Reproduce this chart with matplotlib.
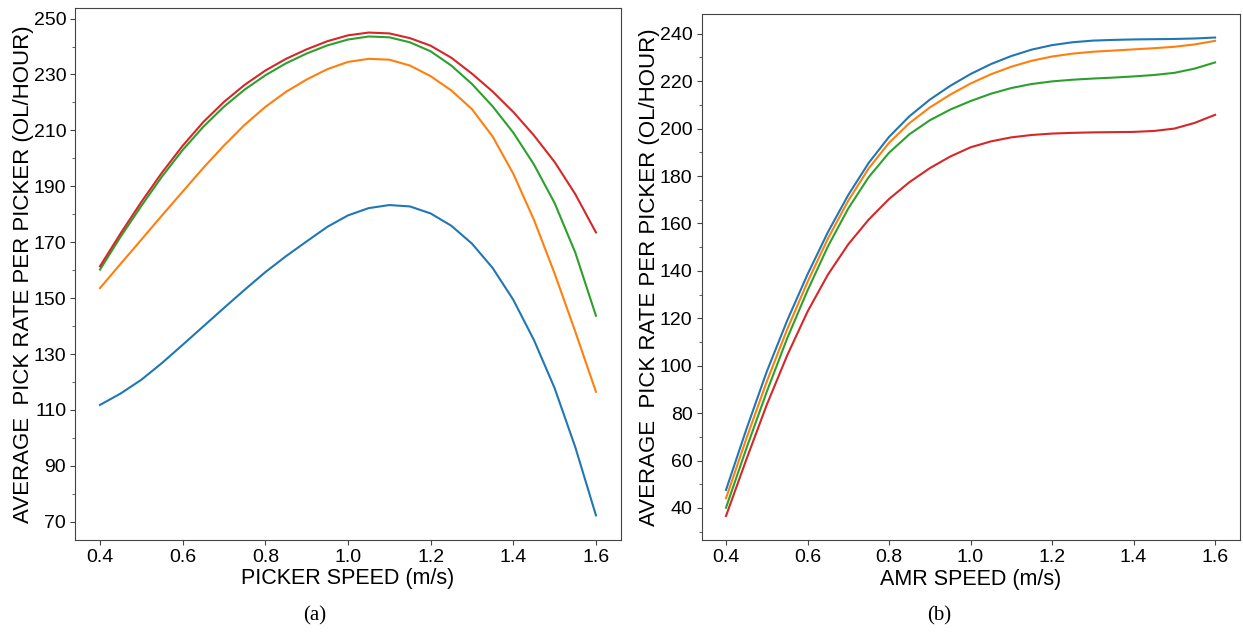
import matplotlib
matplotlib.use("Agg")
import matplotlib.pyplot as plt

# speeds, read every 0.05 m/s
speed = [0.40, 0.45, 0.50, 0.55, 0.60, 0.65, 0.70, 0.75, 0.80, 0.85, 0.90, 0.95, 1.00,
         1.05, 1.10, 1.15, 1.20, 1.25, 1.30, 1.35, 1.40, 1.45, 1.50, 1.55, 1.60]

# (a) picker speed vs pick rate
a_blue = [111.8, 115.9, 120.8, 126.8, 133.3, 139.9, 146.5, 153.0, 159.3, 165.0, 170.3, 175.5, 179.6,
          182.2, 183.3, 182.8, 180.3, 175.9, 169.5, 160.8, 149.4, 135.0, 117.8, 96.7, 72.3]
a_orange = [153.6, 162.3, 170.9, 179.6, 188.1, 196.6, 204.6, 212.0, 218.4, 223.8, 228.2, 231.9, 234.5,
            235.6, 235.3, 233.2, 229.4, 224.3, 217.6, 207.8, 194.5, 178.0, 158.8, 138.0, 116.5]
a_green = [160.2, 172.0, 183.0, 193.5, 203.0, 211.3, 218.5, 224.6, 229.7, 234.0, 237.5, 240.4, 242.5,
           243.6, 243.3, 241.5, 238.3, 233.2, 226.6, 218.6, 209.2, 197.8, 184.0, 166.3, 143.7]
a_red = [161.4, 173.2, 184.4, 194.9, 204.5, 213.0, 220.2, 226.3, 231.4, 235.6, 239.0, 241.9, 244.0,
         245.0, 244.7, 243.0, 240.3, 236.0, 230.3, 223.9, 216.6, 208.2, 198.7, 187.2, 173.5]

# (b) AMR speed vs pick rate
b_blue = [47.6, 73.2, 97.5, 119.0, 138.5, 156.3, 172.0, 185.5, 196.5, 205.2, 212.2, 218.0, 223.0,
          227.2, 230.6, 233.3, 235.2, 236.4, 237.1, 237.4, 237.6, 237.7, 237.8, 238.0, 238.4]
b_orange = [44.1, 69.3, 93.3, 115.3, 135.3, 153.6, 169.6, 183.2, 194.0, 202.3, 208.9, 214.3, 219.0,
            222.9, 226.1, 228.6, 230.4, 231.6, 232.4, 232.9, 233.4, 233.9, 234.5, 235.5, 237.0]
b_green = [40.1, 65.1, 89.0, 111.5, 131.7, 150.3, 166.3, 179.5, 189.8, 197.6, 203.5, 208.0, 211.6,
           214.7, 217.1, 218.8, 219.9, 220.6, 221.1, 221.5, 222.0, 222.6, 223.5, 225.3, 227.9]
b_red = [36.6, 60.5, 83.5, 104.3, 122.8, 138.4, 151.2, 161.6, 170.3, 177.4, 183.3, 188.2, 192.1,
         194.6, 196.3, 197.3, 197.9, 198.2, 198.4, 198.5, 198.6, 199.0, 200.0, 202.4, 205.8]

colors = ["#1f77b4", "#ff7f0e", "#2ca02c", "#d62728"]
ylabel = "AVERAGE  PICK RATE PER PICKER (OL/HOUR)"

plt.rcParams["font.family"] = "Liberation Sans"

fig = plt.figure(figsize=(12.43, 6.33), dpi=100)
ax1 = fig.add_axes([0.0605, 0.1477, 0.4389, 0.8390])
ax2 = fig.add_axes([0.5644, 0.1470, 0.4328, 0.8315])

for ys, c in zip([a_blue, a_orange, a_green, a_red], colors):
    ax1.plot(speed, ys, color=c, lw=1.5)
for ys, c in zip([b_blue, b_orange, b_green, b_red], colors):
    ax2.plot(speed, ys, color=c, lw=1.5)

ax1.set_yticks(range(70, 251, 20))
ax1.set_yticks(range(80, 241, 20), minor=True)
ax2.set_yticks(range(40, 241, 20))
ax2.set_yticks(range(30, 231, 20), minor=True)

for ax, xl in [(ax1, "PICKER SPEED (m/s)"), (ax2, "AMR SPEED (m/s)")]:
    ax.set_xticks([0.4, 0.6, 0.8, 1.0, 1.2, 1.4, 1.6])
    ax.set_xlabel(xl, fontsize=15.5, labelpad=2)
    ax.set_ylabel(ylabel, fontsize=16, labelpad=0)
    ax.tick_params(labelsize=14, color="#444444", pad=3)
    ax.tick_params(which="minor", color="#444444")
    for s in ax.spines.values():
        s.set_color("#444444")

fig.text(0.2535, 0.020, "(a)", family="Liberation Serif", fontsize=15, ha="center")
fig.text(0.7555, 0.020, "(b)", family="Liberation Serif", fontsize=15, ha="center")

fig.savefig("out.png", dpi=100)
